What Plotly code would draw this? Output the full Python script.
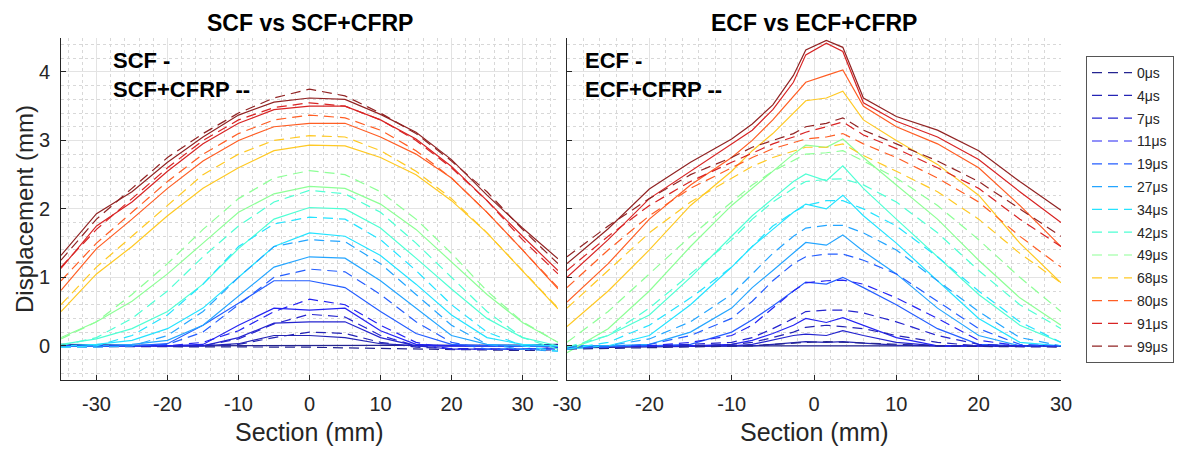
import plotly.graph_objects as go

# time steps (legend) and section positions
times = [0, 4, 7, 11, 19, 27, 34, 42, 49, 68, 80, 91, 99]
section_scf = [-35, -30, -25, -20, -15, -10, -5, 0, 5, 10, 15, 20, 25, 30, 35]
section_ecf = [-30, -25, -20, -15, -10, -7.5, -5, -2.5, -1, 1.5, 3.5, 6, 10, 15, 20, 25, 30]

# tick labels (plain hyphen, as in the original)
x_ticks = [-30, -20, -10, 0, 10, 20, 30]
x_ticklabels = ["-30", "-20", "-10", "0", "10", "20", "30"]
y_ticks = [0, 1, 2, 3, 4]
y_ticklabels = ["0", "1", "2", "3", "4"]

# SCF (solid), one row per time step
scf = [
    [0.02, 0.02, 0.01, 0.0, 0.0, 0.0, 0.0, 0.0, 0.0, 0.0, 0.0, 0.0, 0.0, 0.01, 0.02],
    [0, 0, 0, 0, 0, 0.03, 0.15, 0.15, 0.12, 0.03, 0, 0, 0, 0, 0],
    [0, 0, 0, 0, 0, 0.12, 0.33, 0.35, 0.35, 0.12, 0, 0, 0, 0, 0],
    [0, 0, 0, 0, 0.02, 0.3, 0.55, 0.52, 0.55, 0.22, 0.02, 0, 0, 0, 0],
    [0, 0, 0, 0.03, 0.3, 0.62, 0.95, 0.95, 0.85, 0.5, 0.18, 0.02, 0, 0, 0],
    [0, 0, 0.02, 0.08, 0.3, 0.72, 1.15, 1.3, 1.28, 0.95, 0.55, 0.15, 0.02, 0, 0],
    [0, 0.02, 0.08, 0.25, 0.55, 1.0, 1.45, 1.65, 1.6, 1.32, 0.9, 0.45, 0.12, 0.02, 0],
    [0.02, 0.1, 0.25, 0.5, 0.9, 1.42, 1.85, 2.02, 2.0, 1.72, 1.28, 0.83, 0.4, 0.12, 0.0],
    [0.12, 0.35, 0.65, 1.05, 1.5, 1.95, 2.22, 2.33, 2.3, 2.07, 1.7, 1.22, 0.75, 0.34, 0.05],
    [0.5, 1.05, 1.45, 1.9, 2.3, 2.6, 2.85, 2.93, 2.92, 2.75, 2.5, 2.12, 1.65, 1.1, 0.54],
    [0.81, 1.42, 1.85, 2.3, 2.7, 3.0, 3.2, 3.25, 3.25, 3.05, 2.8, 2.45, 1.95, 1.4, 0.83],
    [1.13, 1.75, 2.1, 2.55, 2.95, 3.25, 3.45, 3.5, 3.5, 3.3, 3.02, 2.62, 2.12, 1.6, 1.1],
    [1.32, 1.93, 2.25, 2.68, 3.05, 3.37, 3.56, 3.62, 3.6, 3.38, 3.12, 2.72, 2.2, 1.72, 1.27],
]

# SCF+CFRP (dashed)
scf_cfrp = [
    [-0.01, -0.01, -0.02, -0.02, -0.02, -0.02, -0.02, -0.02, -0.03, -0.04, -0.05, -0.06, -0.07, -0.07, -0.06],
    [0, 0, 0, 0, 0, 0.02, 0.12, 0.2, 0.18, 0.05, -0.02, -0.04, -0.05, -0.05, -0.03],
    [0, 0, 0, 0, 0, 0.1, 0.32, 0.46, 0.42, 0.15, 0, -0.05, -0.05, -0.05, -0.03],
    [0, 0, 0, 0, 0.05, 0.22, 0.5, 0.68, 0.6, 0.3, 0.05, -0.05, -0.05, -0.05, -0.03],
    [0, 0, 0, 0.02, 0.2, 0.6, 1.0, 1.12, 1.08, 0.75, 0.35, 0.05, -0.05, -0.05, -0.05],
    [-0.02, -0.02, 0.0, 0.15, 0.5, 1.0, 1.45, 1.55, 1.52, 1.2, 0.75, 0.3, 0.02, -0.05, -0.08],
    [-0.02, 0.0, 0.15, 0.45, 0.9, 1.45, 1.78, 1.88, 1.85, 1.55, 1.1, 0.6, 0.2, 0.0, -0.08],
    [0.0, 0.12, 0.4, 0.8, 1.3, 1.75, 2.1, 2.27, 2.22, 1.95, 1.5, 1.0, 0.5, 0.12, -0.05],
    [0.1, 0.35, 0.75, 1.2, 1.7, 2.15, 2.45, 2.56, 2.5, 2.25, 1.85, 1.35, 0.8, 0.35, 0.05],
    [0.6, 1.15, 1.6, 2.05, 2.5, 2.8, 3.0, 3.07, 3.05, 2.85, 2.55, 2.15, 1.65, 1.1, 0.55],
    [0.95, 1.5, 1.95, 2.4, 2.8, 3.1, 3.3, 3.37, 3.33, 3.15, 2.85, 2.45, 1.95, 1.4, 0.85],
    [1.15, 1.7, 2.15, 2.6, 3.0, 3.3, 3.48, 3.55, 3.5, 3.3, 3.0, 2.6, 2.12, 1.55, 1.05],
    [1.25, 1.85, 2.3, 2.75, 3.1, 3.4, 3.62, 3.75, 3.65, 3.4, 3.1, 2.7, 2.25, 1.7, 1.2],
]

# ECF (solid)
ecf = [
    [-0.03, -0.02, -0.01, 0, 0, 0, 0, 0, 0.01, 0.01, 0.01, 0, 0, 0, 0, 0, 0],
    [0, 0, 0, 0, 0, 0, 0.02, 0.04, 0.06, 0.05, 0.06, 0.04, 0.01, 0, 0, 0, 0],
    [0, 0, 0, 0, 0, 0.02, 0.08, 0.15, 0.17, 0.15, 0.22, 0.15, 0.05, 0, 0, 0, 0],
    [0, 0, 0, 0, 0.02, 0.08, 0.18, 0.3, 0.4, 0.34, 0.41, 0.3, 0.12, 0.0, 0, 0, 0],
    [0, 0, 0, 0.02, 0.2, 0.38, 0.58, 0.8, 0.93, 0.9, 1.0, 0.85, 0.6, 0.25, 0.02, 0, 0],
    [0, 0, 0.02, 0.2, 0.55, 0.85, 1.1, 1.35, 1.51, 1.47, 1.62, 1.38, 1.05, 0.55, 0.15, 0, 0],
    [-0.05, 0.0, 0.15, 0.6, 1.15, 1.45, 1.7, 1.95, 2.07, 2.0, 2.2, 1.9, 1.5, 0.95, 0.4, 0.05, 0.0],
    [-0.05, 0.15, 0.45, 1.0, 1.6, 1.9, 2.15, 2.4, 2.51, 2.41, 2.63, 2.3, 1.85, 1.3, 0.75, 0.3, 0.05],
    [-0.1, 0.25, 0.8, 1.45, 2.05, 2.3, 2.55, 2.8, 2.93, 2.9, 3.02, 2.75, 2.35, 1.85, 1.25, 0.7, 0.3],
    [0.28, 0.8, 1.4, 2.05, 2.55, 2.85, 3.1, 3.4, 3.58, 3.62, 3.72, 3.3, 3.0, 2.65, 2.2, 1.5, 0.92],
    [0.64, 1.2, 1.85, 2.35, 2.75, 3.0, 3.3, 3.65, 3.85, 3.95, 4.03, 3.5, 3.2, 2.95, 2.6, 2.05, 1.45],
    [1.0, 1.55, 2.15, 2.55, 2.95, 3.15, 3.45, 3.85, 4.25, 4.42, 4.3, 3.55, 3.28, 3.05, 2.72, 2.25, 1.8],
    [1.2, 1.71, 2.29, 2.68, 3.02, 3.24, 3.52, 3.95, 4.32, 4.46, 4.36, 3.62, 3.35, 3.15, 2.85, 2.4, 1.98],
]

# ECF+CFRP (dashed)
ecf_cfrp = [
    [-0.05, -0.04, -0.03, -0.02, -0.01, 0, 0.02, 0.04, 0.05, 0.06, 0.05, 0.04, 0.02, 0, -0.01, -0.02, -0.02],
    [-0.02, -0.02, 0, 0, 0.02, 0.05, 0.12, 0.2, 0.27, 0.3, 0.28, 0.25, 0.15, 0.05, 0, 0, 0],
    [-0.03, -0.02, 0, 0.02, 0.05, 0.12, 0.25, 0.4, 0.5, 0.52, 0.52, 0.48, 0.35, 0.15, 0.02, 0, 0],
    [-0.03, -0.02, 0, 0.05, 0.15, 0.3, 0.55, 0.8, 0.92, 0.95, 0.96, 0.9, 0.7, 0.4, 0.08, 0, 0],
    [-0.03, -0.02, 0.02, 0.15, 0.4, 0.65, 0.95, 1.2, 1.3, 1.34, 1.34, 1.25, 1.05, 0.65, 0.25, 0.02, 0],
    [0, 0, 0.1, 0.35, 0.75, 1.05, 1.35, 1.6, 1.72, 1.76, 1.76, 1.65, 1.4, 0.95, 0.5, 0.12, 0],
    [-0.05, 0.05, 0.3, 0.7, 1.15, 1.45, 1.75, 1.95, 2.05, 2.12, 2.12, 2.0, 1.75, 1.3, 0.8, 0.35, 0.05],
    [-0.02, 0.15, 0.55, 1.05, 1.55, 1.85, 2.1, 2.3, 2.4, 2.43, 2.44, 2.35, 2.1, 1.65, 1.1, 0.6, 0.25],
    [0.05, 0.5, 1.05, 1.6, 2.1, 2.35, 2.55, 2.7, 2.8, 2.82, 2.85, 2.7, 2.45, 2.05, 1.55, 1.0, 0.5],
    [0.55, 1.1, 1.65, 2.1, 2.45, 2.62, 2.75, 2.85, 2.9, 2.9, 2.95, 2.78, 2.55, 2.25, 1.85, 1.35, 0.92],
    [0.85, 1.4, 1.9, 2.3, 2.6, 2.75, 2.88, 2.97, 3.02, 3.05, 3.1, 2.95, 2.75, 2.45, 2.1, 1.6, 1.15],
    [1.1, 1.6, 2.05, 2.4, 2.68, 2.82, 2.95, 3.05, 3.12, 3.2, 3.27, 3.08, 2.88, 2.6, 2.3, 1.85, 1.45],
    [1.3, 1.75, 2.15, 2.5, 2.75, 2.9, 3.0, 3.1, 3.2, 3.25, 3.33, 3.15, 2.95, 2.7, 2.4, 2.0, 1.6],
]

# the page body has an 8px margin, so the figure is drawn 8px in from the corner
OFF = 8
W, H = 1182 - OFF, 450 - OFF
FONT = "Liberation Sans, Arial, Helvetica, sans-serif"
TXT = "#262626"
DASH = "10px,6px"


def jet(v):
    # matlab-like jet colormap, v in [0, 1]
    def c(x):
        return max(0.0, min(1.0, x))
    r = c(1.5 - abs(4 * v - 3))
    g = c(1.5 - abs(4 * v - 2))
    b = c(1.5 - abs(4 * v - 1))
    # soften a little, lines in the original look antialiased
    mix = lambda x: int(round(255 * (0.86 * x + 0.14)))
    return f"rgb({mix(r)},{mix(g)},{mix(b)})"


def px(x):
    # page pixel -> paper fraction
    return (x - OFF) / W


def py(y):
    return 1 - (y - OFF) / H


fig = go.Figure()

panels = [
    ("x", "y", section_scf, scf, scf_cfrp, False),
    ("x2", "y2", section_ecf, ecf, ecf_cfrp, True),
]
for xa, ya, xs, solid, dashed, legend in panels:
    for i, t in enumerate(times):
        col = jet(t / 99)
        fig.add_trace(go.Scatter(
            x=xs, y=solid[i], xaxis=xa, yaxis=ya, mode="lines",
            line=dict(color=col, width=1.2), legendgroup=str(t),
            showlegend=False, hoverinfo="skip",
        ))
    for i, t in enumerate(times):
        col = jet(t / 99)
        fig.add_trace(go.Scatter(
            x=xs, y=dashed[i], xaxis=xa, yaxis=ya, mode="lines",
            line=dict(color=col, width=1.2, dash=DASH), legendgroup=str(t),
            name=f"{t}\u03bcs", showlegend=legend,
        ))

grid = dict(
    showgrid=True, gridcolor="#e3e3e3", gridwidth=1,
    minor=dict(showgrid=True, gridcolor="#d8d8d8", griddash="dot", gridwidth=1),
    showline=True, linecolor=TXT, linewidth=1, mirror=False,
    ticks="inside", ticklen=5, tickcolor=TXT, zeroline=False, automargin=False,
    tickfont=dict(family=FONT, size=20, color=TXT), ticklabelstandoff=6,
)
xgrid = dict(tickmode="array", tickvals=x_ticks, ticktext=x_ticklabels, **grid)
ygrid = dict(tickmode="array", tickvals=y_ticks, ticktext=y_ticklabels, **grid)

fig.update_layout(
    width=W, height=H,
    margin=dict(l=0, r=0, t=0, b=0),
    paper_bgcolor="white", plot_bgcolor="white",
    font=dict(family=FONT, color=TXT),
    xaxis=dict(domain=[px(61), px(558)], range=[-35, 35], anchor="y", **xgrid),
    xaxis2=dict(domain=[px(567), px(1061)], range=[-30, 30], anchor="y2", **xgrid),
    yaxis=dict(domain=[py(380), py(37.75)], range=[-0.5, 4.5], anchor="x", **ygrid),
    yaxis2=dict(domain=[py(380), py(37.75)], range=[-0.5, 4.5], anchor="x2",
                showticklabels=False, **ygrid),
    legend=dict(
        x=px(1086), y=py(56), xanchor="left", yanchor="top",
        bgcolor="white", bordercolor="#555555", borderwidth=1,
        font=dict(family=FONT, size=14, color=TXT),
        tracegroupgap=1.6, traceorder="grouped", itemwidth=40,
    ),
    showlegend=True,
)
fig.update_xaxes(minor_dtick=2, minor_tick0=0)
fig.update_yaxes(minor_dtick=0.2, minor_tick0=0)

# panel titles, anchored to the top so they are not clipped
for text, x in [("<b>SCF vs SCF+CFRP</b>", 309.5), ("<b>ECF vs ECF+CFRP</b>", 814)]:
    fig.add_annotation(text=text, x=px(x), y=1, xref="paper", yref="paper",
                       showarrow=False, xanchor="center", yanchor="top",
                       font=dict(family=FONT, size=23, color="black"))

for x in [309.5, 814]:
    fig.add_annotation(text="Section (mm)", x=px(x), y=py(432), xref="paper", yref="paper",
                       showarrow=False, xanchor="center", yanchor="middle",
                       font=dict(family=FONT, size=25, color=TXT))

fig.add_annotation(text="Displacement (mm)", x=px(25), y=py(209), xref="paper", yref="paper",
                   showarrow=False, textangle=-90, xanchor="center", yanchor="middle",
                   font=dict(family=FONT, size=24, color=TXT))

labels = [("<b>SCF -</b>", 111, 60), ("<b>SCF+CFRP --</b>", 111, 89),
          ("<b>ECF -</b>", 583, 60), ("<b>ECF+CFRP --</b>", 583, 89)]
for text, x, y in labels:
    fig.add_annotation(text=text, x=px(x), y=py(y), xref="paper", yref="paper",
                       showarrow=False, xanchor="left", yanchor="middle",
                       font=dict(family=FONT, size=22, color="black"))

fig.write_html("out.html")
